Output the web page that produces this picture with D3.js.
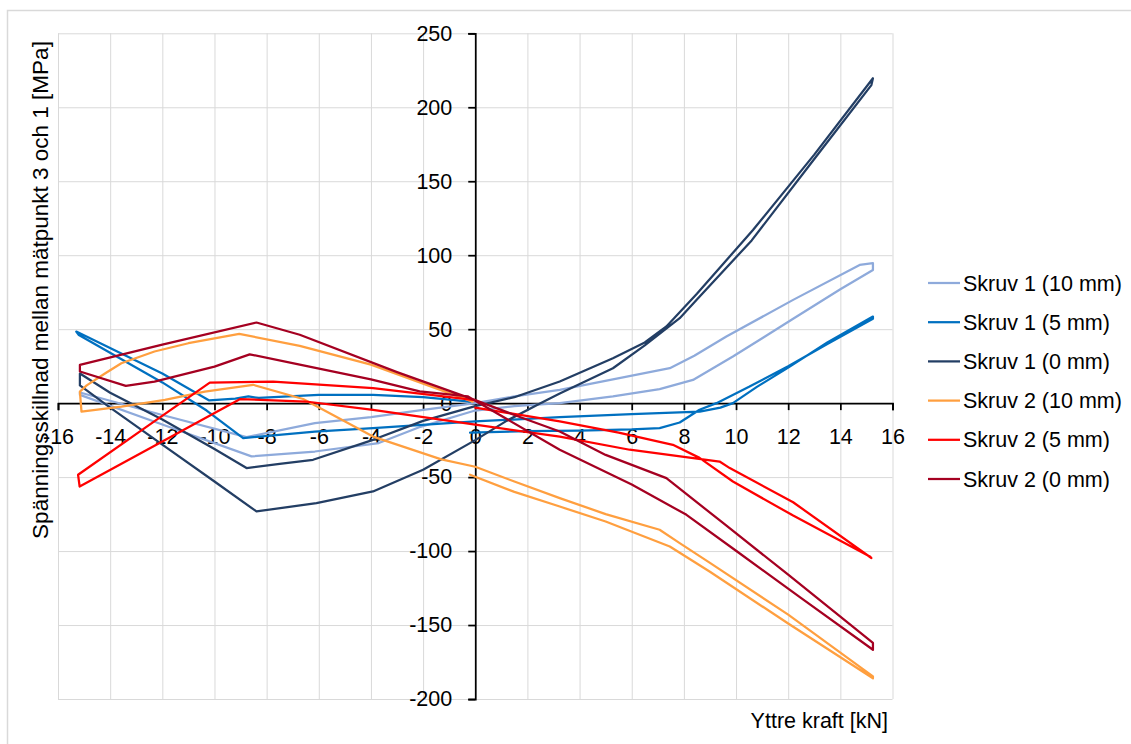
<!DOCTYPE html>
<html>
<head>
<meta charset="utf-8">
<script src="https://cdn.jsdelivr.net/npm/d3@7"></script>
<style>
  html, body { margin: 0; padding: 0; background: #fff; }
  svg { display: block; }
  text { font-family: "Liberation Sans", Arial, sans-serif; fill: #000; }
</style>
</head>
<body>
<svg id="chart" width="1131" height="744"></svg>
<script>
// ---------- data ----------
const seriesNames = ["Skruv 1 (10 mm)", "Skruv 1 (5 mm)", "Skruv 1 (0 mm)", "Skruv 2 (10 mm)", "Skruv 2 (5 mm)", "Skruv 2 (0 mm)"];
const seriesColors = ["#8eaadb", "#0070c0", "#233e64", "#ff9f3f", "#ff0000", "#a50021"];

const xTicks = [-16, -14, -12, -10, -8, -6, -4, -2, 0, 2, 4, 6, 8, 10, 12, 14, 16];
const yTicks = [-200, -150, -100, -50, 0, 50, 100, 150, 200, 250];

// Skruv 1 (10 mm)
const s1_10_x = [0, 1.5, 3.24, 5.28, 7.07, 8.35, 9.88, 12.19, 14, 15.25, 15.25, 14.74, 12.19, 9.63, 8.4, 7.46, 5.28, 3.24, 1.5, 0, -2, -4, -6.15, -8.77, -12, -15.16, -15.16, -12, -8.58, -6.15, -3.7, -2.1, -0.2, 0];
const s1_10_y = [-5, -2, 0, 4.5, 9.5, 15.7, 31.5, 57, 77, 90, 94.6, 93.4, 69.8, 45, 32, 23.6, 16, 9, 4.5, 0, -4.5, -9.5, -13.5, -23, -8, 7.2, 5.6, -14.4, -36, -32.7, -27, -16, -6, -5];

// Skruv 1 (5 mm)
const s1_5_x = [-0.2, 2, 4, 6, 7.07, 7.84, 8.6, 9.25, 10.5, 12, 13.5, 15.25, 15.25, 13.5, 12, 10.8, 9.88, 9.4, 8.61, 6, 3.24, 0, -3.92, -6.15, -8.9, -10.3, -12, -15.2, -15.3, -12, -10.2, -9.2, -8.7, -8.3, -6, -3.92, -2, -0.2];
const s1_5_y = [-20, -19, -18.5, -17.8, -16.9, -13.1, -4.5, 0, 11, 25, 40, 57, 58.5, 41, 24, 11, 0, -3, -5.7, -7.5, -9.5, -12.4, -16.9, -19.2, -23.6, -5, 14, 46, 48.4, 20, 1.8, 3, 4.5, 3.5, 5.6, 5.6, 4, 1];

// Skruv 1 (0 mm)
const s1_0_x = [0, 1.5, 3.24, 5.28, 6.5, 7.33, 8.5, 10.65, 13, 15.25, 15.19, 13, 10.6, 8.5, 7.84, 6.5, 5.28, 3.24, 2.5, 1.2, 0, -2, -3.92, -6.09, -8.39, -10, -12, -14, -15.16, -15.16, -14, -12, -10, -8.77, -7.5, -6.22, -3.92, -2, 0];
const s1_0_y = [-2, 4, 14.6, 30.4, 41, 51.8, 74, 117, 168, 219.6, 215, 165, 110, 70, 57.4, 39, 23.6, 6.5, 0, -12, -25, -45, -59.7, -67.6, -73.2, -53, -28, -3, 12, 20, 7, -11, -31, -43.9, -41, -38.3, -24.8, -12, -2];

// Skruv 2 (10 mm)
const s2_10_x = [-0.2, 1.5, 3.24, 5, 7.46, 9, 12, 15.25, 15.25, 12, 9, 7.84, 7.07, 5, 3.24, 1.5, 0, -1.3, -3.92, -6.6, -8.52, -10.37, -11.9, -13.57, -15.1, -15.16, -14.9, -14.2, -13.57, -12.3, -11, -9.05, -6.73, -4, -0.1];
const s2_10_y = [-48.4, -60, -69.9, -80, -96.9, -114, -149, -186, -184.7, -143, -108, -94.6, -85.6, -75, -64.2, -53, -43, -38, -22.6, 2.8, 12.4, 7.8, 2.2, -2.3, -5.7, 7.8, 12, 20, 27, 34.9, 40.5, 46.8, 38.7, 26, 1];

// Skruv 2 (5 mm)
const s2_5_x = [0, 3.24, 5.5, 7.58, 8.6, 9.88, 12.19, 15.13, 15.19, 12.19, 9.76, 9.37, 5.92, 3.24, 0, -3.92, -6.5, -9.03, -12, -15.17, -15.23, -12.5, -10.18, -7.75, -3.92, 0];
const s2_5_y = [-3, -12.4, -20, -28.2, -37, -53, -76, -103.6, -104.7, -67, -43.9, -39.5, -31.5, -22.6, -14.6, -4.5, 1.1, 2.7, -26, -56.4, -48.4, -14.7, 13.9, 14.6, 10.1, 2];

// Skruv 2 (0 mm)
const s2_0_x = [-0.28, 3.24, 6, 8.1, 10, 12.5, 15.25, 15.25, 12, 9.5, 7.33, 5, 3.24, 1.5, 0, -3, -6.73, -8.39, -12, -15.16, -15.16, -13.4, -12.3, -10, -8.65, -6.73, -4, -2.13, -0.28];
const s2_0_y = [4.5, -31.5, -55, -75.5, -99.8, -131.8, -166.7, -162, -116, -81, -50.7, -35, -19.2, -8, 2, 21, 46.2, 54.5, 39.5, 25.9, 21.4, 11.7, 14.6, 24.7, 33, 26, 16, 8, 4.5];

const seriesX = [s1_10_x, s1_5_x, s1_0_x, s2_10_x, s2_5_x, s2_0_x];
const seriesY = [s1_10_y, s1_5_y, s1_0_y, s2_10_y, s2_5_y, s2_0_y];

// ---------- layout ----------
const svg = d3.select("#chart");
const W = 1131, H = 744;
const plot = { left: 58, right: 892.5, top: 33.3, bottom: 699 };
const FONT = 21.5;

const x = d3.scaleLinear().domain([-16, 16]).range([plot.left, plot.right]);
const y = d3.scaleLinear().domain([-200, 250]).range([plot.bottom, plot.top]);

// chart frame (top and left edges visible)
svg.append("path")
  .attr("d", `M${W},10.5 H7.5 V${H}`)
  .attr("fill", "none")
  .attr("stroke", "#d9d9d9").attr("stroke-width", 1.5);

// gridlines
const grid = svg.append("g").attr("class", "grid");
grid.append("g")
  .attr("transform", `translate(0,${plot.bottom})`)
  .call(d3.axisBottom(x).tickValues(xTicks).tickSize(-(plot.bottom - plot.top)).tickFormat(""))
  .call(g => g.select(".domain").remove())
  .call(g => g.selectAll("line").attr("stroke", "#d9d9d9").attr("stroke-width", 1));
grid.append("g")
  .attr("transform", `translate(${plot.left},0)`)
  .call(d3.axisLeft(y).tickValues(yTicks).tickSize(-(plot.right - plot.left)).tickFormat(""))
  .call(g => g.select(".domain").remove())
  .call(g => g.selectAll("line").attr("stroke", "#d9d9d9").attr("stroke-width", 1));

// axes
const xAxis = svg.append("g")
  .attr("transform", `translate(0,${y(0)})`)
  .call(d3.axisBottom(x).tickValues(xTicks).tickSize(7).tickSizeOuter(7).tickPadding(19).tickFormat(d => String(d)));
const yAxis = svg.append("g")
  .attr("transform", `translate(${x(0)},0)`)
  .call(d3.axisLeft(y).tickValues(yTicks).tickSize(7).tickSizeOuter(7).tickPadding(16).tickFormat(d => String(d)));
[xAxis, yAxis].forEach(a => {
  a.select(".domain").attr("stroke", "#000").attr("stroke-width", 1.75);
  a.selectAll(".tick line").attr("stroke", "#000").attr("stroke-width", 1.75);
  a.selectAll("text").attr("font-size", FONT).attr("font-family", "Liberation Sans, Arial, sans-serif").attr("fill", "#000");
});

// series
const line = d3.line().x(d => x(d[0])).y(d => y(d[1])).curve(d3.curveLinear);
seriesNames.forEach((name, i) => {
  const pts = seriesX[i].map((v, j) => [v, seriesY[i][j]]);
  svg.append("path")
    .datum(pts)
    .attr("d", line)
    .attr("fill", "none")
    .attr("stroke", seriesColors[i])
    .attr("stroke-width", 2.25)
    .attr("stroke-linejoin", "round")
    .attr("stroke-linecap", "round");
});

// axis titles
svg.append("text")
  .attr("transform", "translate(47.5,290) rotate(-90)")
  .attr("text-anchor", "middle")
  .attr("font-size", 22.5)
  .text("Spänningsskillnad mellan mätpunkt 3 och 1 [MPa]");
svg.append("text")
  .attr("x", 888).attr("y", 728)
  .attr("text-anchor", "end")
  .attr("font-size", FONT)
  .text("Yttre kraft [kN]");

// legend
const legend = svg.append("g");
seriesNames.forEach((name, i) => {
  const cy = 283 + i * 39.2;
  legend.append("line")
    .attr("x1", 928).attr("x2", 960).attr("y1", cy).attr("y2", cy)
    .attr("stroke", seriesColors[i]).attr("stroke-width", 2.25);
  legend.append("text")
    .attr("x", 963).attr("y", cy + 7.5)
    .attr("font-size", FONT)
    .text(name);
});
</script>
</body>
</html>
